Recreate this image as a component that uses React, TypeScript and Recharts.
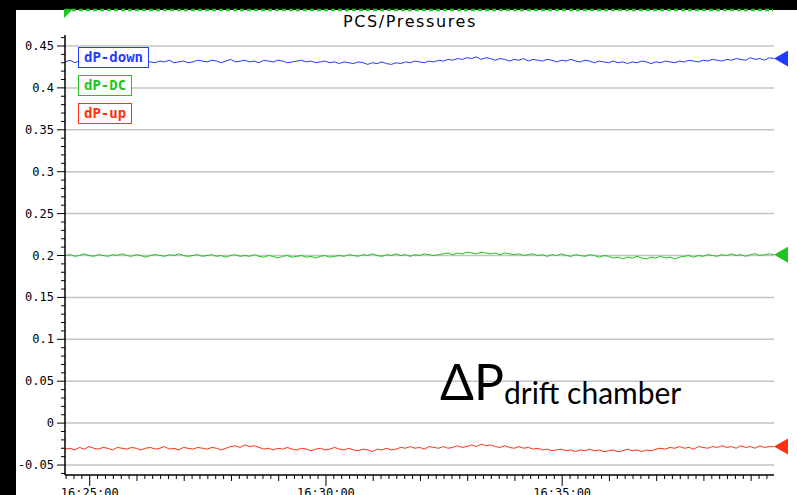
import { Line, LineChart, ReferenceLine, XAxis, YAxis } from "recharts"

// time axis in seconds after 16:00:00, one sample every 6 s
const startSec = 1469
const stepSec = 6

const dpDown = [
  0.431, 0.433, 0.430, 0.432, 0.431, 0.429, 0.432, 0.431, 0.433, 0.430,
  0.431, 0.432, 0.430, 0.431, 0.433, 0.431, 0.429, 0.432, 0.431, 0.430,
  0.432, 0.431, 0.433, 0.430, 0.431, 0.432, 0.430, 0.431, 0.433, 0.432,
  0.431, 0.433, 0.432, 0.430, 0.432, 0.434, 0.431, 0.432, 0.433, 0.431,
  0.432, 0.430, 0.433, 0.432, 0.431, 0.433, 0.432, 0.430, 0.431, 0.432,
  0.433, 0.431, 0.432, 0.430, 0.431, 0.432, 0.430, 0.431, 0.429, 0.431,
  0.430, 0.429, 0.431, 0.430, 0.428, 0.430, 0.429, 0.431, 0.429, 0.428,
  0.430, 0.429, 0.431, 0.430, 0.432, 0.431, 0.430, 0.432, 0.431, 0.433,
  0.432, 0.434, 0.433, 0.435, 0.434, 0.436, 0.435, 0.437, 0.434, 0.436,
  0.435, 0.433, 0.435, 0.434, 0.432, 0.434, 0.433, 0.435, 0.432, 0.434,
  0.433, 0.432, 0.434, 0.433, 0.431, 0.433, 0.432, 0.434, 0.432, 0.431,
  0.433, 0.432, 0.430, 0.432, 0.431, 0.430, 0.432, 0.430, 0.431, 0.429,
  0.431, 0.430, 0.432, 0.431, 0.429, 0.431, 0.430, 0.432, 0.431, 0.430,
  0.432, 0.431, 0.433, 0.432, 0.431, 0.433, 0.432, 0.434, 0.433, 0.432,
  0.434, 0.433, 0.435, 0.434, 0.433, 0.436, 0.434, 0.435, 0.433, 0.436,
  0.435,
]

const dpDC = [
  0.200, 0.201, 0.199, 0.200, 0.202, 0.200, 0.199, 0.201, 0.200, 0.199,
  0.201, 0.200, 0.202, 0.200, 0.199, 0.201, 0.200, 0.198, 0.200, 0.201,
  0.200, 0.199, 0.201, 0.200, 0.202, 0.200, 0.199, 0.200, 0.201, 0.199,
  0.200, 0.201, 0.199, 0.200, 0.198, 0.200, 0.201, 0.199, 0.200, 0.199,
  0.201, 0.199, 0.198, 0.200, 0.199, 0.197, 0.199, 0.200, 0.198, 0.199,
  0.200, 0.198, 0.199, 0.197, 0.199, 0.200, 0.198, 0.199, 0.200, 0.199,
  0.201, 0.200, 0.199, 0.201, 0.200, 0.202, 0.200, 0.199, 0.201, 0.200,
  0.202, 0.200, 0.201, 0.199, 0.201, 0.200, 0.202, 0.201, 0.200, 0.201,
  0.202, 0.203, 0.201, 0.203, 0.202, 0.204, 0.203, 0.202, 0.204, 0.203,
  0.202, 0.203, 0.201, 0.203, 0.202, 0.201, 0.202, 0.200, 0.201, 0.202,
  0.200, 0.201, 0.199, 0.201, 0.200, 0.202, 0.200, 0.199, 0.201, 0.200,
  0.199, 0.201, 0.200, 0.198, 0.200, 0.199, 0.197, 0.198, 0.196, 0.198,
  0.197, 0.199, 0.197, 0.196, 0.198, 0.197, 0.199, 0.197, 0.198, 0.196,
  0.198, 0.199, 0.200, 0.198, 0.200, 0.199, 0.201, 0.200, 0.199, 0.201,
  0.200, 0.202, 0.200, 0.201, 0.199, 0.201, 0.202, 0.200, 0.201, 0.202,
  0.201,
]

const dpUp = [
  -0.031, -0.030, -0.032, -0.029, -0.031, -0.028, -0.030, -0.031, -0.029, -0.030,
  -0.032, -0.029, -0.030, -0.031, -0.029, -0.030, -0.032, -0.030, -0.029, -0.031,
  -0.030, -0.028, -0.031, -0.030, -0.032, -0.029, -0.030, -0.031, -0.029, -0.030,
  -0.031, -0.029, -0.030, -0.032, -0.030, -0.028, -0.027, -0.029, -0.026, -0.028,
  -0.027, -0.029, -0.031, -0.030, -0.032, -0.030, -0.031, -0.029, -0.031, -0.032,
  -0.030, -0.031, -0.033, -0.031, -0.030, -0.032, -0.031, -0.029, -0.031, -0.032,
  -0.030, -0.032, -0.033, -0.031, -0.032, -0.034, -0.031, -0.032, -0.030, -0.032,
  -0.031, -0.029, -0.030, -0.028, -0.030, -0.029, -0.031, -0.028, -0.029, -0.030,
  -0.028, -0.030, -0.029, -0.027, -0.029, -0.028, -0.026, -0.028, -0.025, -0.027,
  -0.026, -0.028, -0.029, -0.027, -0.029, -0.030, -0.028, -0.030, -0.029, -0.031,
  -0.030, -0.032, -0.031, -0.033, -0.032, -0.031, -0.033, -0.032, -0.034, -0.032,
  -0.033, -0.031, -0.033, -0.032, -0.034, -0.033, -0.032, -0.034, -0.033, -0.031,
  -0.033, -0.032, -0.034, -0.032, -0.033, -0.031, -0.030, -0.031, -0.029, -0.030,
  -0.028, -0.030, -0.029, -0.031, -0.028, -0.029, -0.030, -0.028, -0.029, -0.027,
  -0.029, -0.028, -0.030, -0.027, -0.029, -0.028, -0.030, -0.027, -0.029, -0.028,
  -0.028,
]

const yMajorTicks = [-0.05, 0, 0.05, 0.1, 0.15, 0.2, 0.25, 0.3, 0.35, 0.4, 0.45]
const yTickLabels = ["-0.05", "0", "0.05", "0.1", "0.15", "0.2", "0.25", "0.3", "0.35", "0.4", "0.45"]
const xLabelTimes = [1500, 1800, 2100]
const xTickLabels = ["16:25:00", "16:30:00", "16:35:00"]

const series = [
  { key: "down", name: "dP-down", color: "#1f3cff", values: dpDown },
  { key: "dc", name: "dP-DC", color: "#1fc41f", values: dpDC },
  { key: "up", name: "dP-up", color: "#ff3010", values: dpUp },
]

const data = dpDown.map((_, i) => ({
  t: startSec + i * stepSec,
  down: dpDown[i],
  dc: dpDC[i],
  up: dpUp[i],
}))

const xDomain = [1468.6, 2369]
const yDomain = [-0.0619, 0.4631]
const xTicks = Array.from({ length: 90 }, (_, i) => 1470 + i * 10)
const yTicks = Array.from({ length: 53 }, (_, i) => (i - 6) / 100)

const monoFont = "'DejaVu Sans Mono', monospace"

function XTick({ x, y, payload }: any) {
  const v = payload.value
  const labelIdx = xLabelTimes.indexOf(v)
  const len = labelIdx >= 0 ? 11 : v % 60 === 0 ? 6 : 4
  return (
    <g>
      <line x1={x} x2={x} y1={y} y2={y + len} stroke="#000" strokeWidth={1} />
      {labelIdx >= 0 && (
        <text x={x} y={y + 22} textAnchor="middle" fontFamily={monoFont} fontSize={12} fill="#000">
          {xTickLabels[labelIdx]}
        </text>
      )}
    </g>
  )
}

function YTick({ x, y, payload }: any) {
  const hundredths = Math.round(payload.value * 100)
  const labelIdx = yMajorTicks.findIndex((m) => Math.round(m * 100) === hundredths)
  const len = labelIdx >= 0 ? 8 : 4
  return (
    <g>
      <line x1={x - len} x2={x} y1={y} y2={y} stroke="#000" strokeWidth={1} />
      {labelIdx >= 0 && (
        <text x={x - 11} y={y + 4} textAnchor="end" fontFamily={monoFont} fontSize={12} fill="#000">
          {yTickLabels[labelIdx]}
        </text>
      )}
    </g>
  )
}

// a filled triangle pointing at the latest sample, drawn outside the right edge
function endMarker(color: string, last: number) {
  return (p: any) => {
    if (p.index !== last) return <g key={p.key} />
    const { cx, cy } = p
    return (
      <polygon
        key={p.key}
        points={`${cx},${cy} ${cx + 14},${cy - 8} ${cx + 14},${cy + 8}`}
        fill={color}
      />
    )
  }
}

export default function App() {
  const last = data.length - 1
  return (
    <div style={{ position: "absolute", left: 0, top: 0, width: 797, height: 495, background: "#000", overflow: "hidden" }}>
      <div style={{ position: "absolute", left: 16, top: 10, width: 781, height: 485, background: "#fff" }}>
        <LineChart width={781} height={485} data={data} margin={{ top: 25, right: 23, bottom: 0, left: 0 }}>
          <XAxis
            dataKey="t"
            type="number"
            domain={xDomain}
            ticks={xTicks}
            interval={0}
            tick={<XTick />}
            tickLine={false}
            tickSize={0}
            tickMargin={0}
            height={20}
            axisLine={{ stroke: "#000", strokeWidth: 1.5 }}
          />
          <XAxis
            xAxisId="top"
            orientation="top"
            dataKey="t"
            type="number"
            domain={xDomain}
            tick={false}
            tickLine={false}
            height={0}
            axisLine={{ stroke: "#555", strokeWidth: 1.5 }}
          />
          <YAxis
            type="number"
            domain={yDomain}
            ticks={yTicks}
            interval={0}
            tick={<YTick />}
            tickLine={false}
            tickSize={0}
            tickMargin={0}
            width={49}
            axisLine={{ stroke: "#000", strokeWidth: 1.5 }}
          />
          <YAxis
            yAxisId="right"
            orientation="right"
            type="number"
            domain={yDomain}
            tick={false}
            tickLine={false}
            width={0}
            axisLine={{ stroke: "#555", strokeWidth: 1.5 }}
          />
          {yMajorTicks.map((v) => (
            <ReferenceLine key={v} y={v} stroke="#c4c4c4" strokeWidth={1.5} />
          ))}
          {series.map((s) => (
            <Line
              key={s.key}
              type="linear"
              dataKey={s.key}
              stroke={s.color}
              strokeWidth={1}
              dot={endMarker(s.color, last)}
              activeDot={false}
              isAnimationActive={false}
            />
          ))}
        </LineChart>
      </div>

      {/* time-range strip above the plot */}
      <svg style={{ position: "absolute", left: 0, top: 0 }} width={797} height={20}>
        <line x1={65} x2={773} y1={10} y2={10} stroke="#1fc41f" strokeWidth={2.5} strokeDasharray="4 3" />
        <polygon points="64,9 73,9 64,18" fill="#1fc41f" />
      </svg>

      <div
        style={{
          position: "absolute",
          left: 260,
          width: 300,
          top: 12,
          textAlign: "center",
          fontFamily: "'DejaVu Sans', sans-serif",
          fontSize: 16,
          letterSpacing: 1.6,
          color: "#000",
        }}
      >
        PCS/Pressures
      </div>

      {series.map((s, i) => (
        <div
          key={s.key}
          style={{
            position: "absolute",
            left: 78,
            top: 47 + i * 28,
            height: 19,
            padding: "0 5px",
            border: `1.5px solid ${s.color}`,
            background: "#fff",
            color: s.color,
            fontFamily: monoFont,
            fontWeight: "bold",
            fontSize: 14,
            lineHeight: "19px",
          }}
        >
          {s.name}
        </div>
      ))}

      <div
        style={{
          position: "absolute",
          left: 440,
          top: 356,
          fontFamily: "Lato, 'Open Sans', sans-serif",
          color: "#000",
          whiteSpace: "nowrap",
          lineHeight: 1,
        }}
      >
        <span style={{ fontSize: 50 }}>ΔP</span>
        <span style={{ fontSize: 30, position: "relative", top: 4 }}>drift chamber</span>
      </div>
    </div>
  )
}
